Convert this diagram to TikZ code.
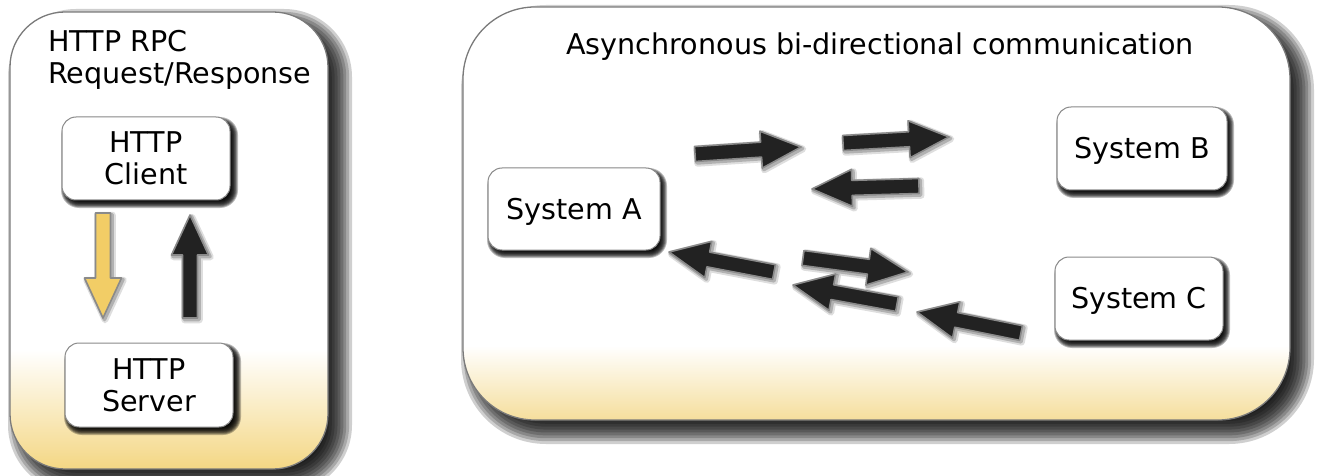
\documentclass[tikz,border=0pt]{standalone}
\usepackage{fontspec}
\setmainfont{DejaVu Sans}
\usetikzlibrary{calc}
\definecolor{panelline}{HTML}{7A7A7A}
\definecolor{boxline}{HTML}{8A8A8A}
\definecolor{arrowdark}{HTML}{222222}
\definecolor{arrowedge}{HTML}{8A8A8A}
\definecolor{arrowyellow}{HTML}{F2CD66}
\definecolor{goldL}{HTML}{F4D784}
\definecolor{goldR}{HTML}{F5DE9C}
\pgfdeclareverticalshading{leftshade}{100bp}{color(0bp)=(goldL); color(25bp)=(goldL); color(38bp)=(white); color(100bp)=(white)}
\pgfdeclareverticalshading{rightshade}{100bp}{color(0bp)=(goldR); color(25bp)=(goldR); color(34bp)=(white); color(100bp)=(white)}

\newcommand\softshadow[7]{% x1,y1,x2,y2,radius,blur,opacity
  \foreach \k in {0,...,9}{%
    \pgfmathsetmacro\e{#6*(1-\k/4.5)}%
    \pgfmathsetmacro\rr{max(#5+\e,0.5)}%
    \pgfmathsetmacro\xa{#1-\e}%
    \pgfmathsetmacro\ya{#2-\e}%
    \pgfmathsetmacro\xb{#3+\e}%
    \pgfmathsetmacro\yb{#4+\e}%
    \fill[black,opacity=#7,rounded corners=\rr pt] (\xa,\ya) rectangle (\xb,\yb);
  }%
}

\newcommand\fatarrow[4]{% #1 name, #2 tail, #3 tip, #4 fill
  \coordinate (#1h) at ($(#3)!40pt!(#2)$);
  \coordinate (#1a) at ($(#2)!7.5pt!90:(#3)$);
  \coordinate (#1b) at ($(#1h)!7.5pt!90:(#3)$);
  \coordinate (#1c) at ($(#1h)!18.5pt!90:(#3)$);
  \coordinate (#1d) at ($(#1h)!18.5pt!-90:(#3)$);
  \coordinate (#1e) at ($(#1h)!7.5pt!-90:(#3)$);
  \coordinate (#1f) at ($(#2)!7.5pt!-90:(#3)$);
  \path[arrowglow, transform canvas={xshift=2pt,yshift=-2pt}] (#1a)--(#1b)--(#1c)--(#3)--(#1d)--(#1e)--(#1f)--cycle;
  \path[arrowglow, line width=3.5pt, opacity=0.2, transform canvas={xshift=1.5pt,yshift=-1.5pt}] (#1a)--(#1b)--(#1c)--(#3)--(#1d)--(#1e)--(#1f)--cycle;
  \path[arrowbody, fill=#4] (#1a)--(#1b)--(#1c)--(#3)--(#1d)--(#1e)--(#1f)--cycle;
}

\begin{document}
\begin{tikzpicture}[x=1pt,y=-1pt,
  every node/.style={font=\fontsize{28.6}{32}\selectfont},
  panel/.style={draw=panelline, line width=1.3pt, rounded corners=#1, inner sep=0pt, outer sep=0pt},
  sbox/.style={draw=boxline, line width=1pt, fill=white, rounded corners=14pt, inner sep=0pt, outer sep=0pt, align=center},
  sysbox/.style={sbox, text height=20pt, text depth=0pt},
  arrowglow/.style={draw=black, line width=6.5pt, opacity=0.13, line join=round},
  arrowbody/.style={draw=arrowedge, line width=1.6pt, line join=round},
]
\useasboundingbox (0,0) rectangle (1318,476);
\fill[white] (0,0) rectangle (1318,476);

% ---- left panel
\softshadow{21}{22}{339}{480}{55}{13}{0.19}
\node[panel=55pt, shading=leftshade, minimum width=318pt, minimum height=457pt] (lp) at (169,240.5) {};
\node[anchor=base west, inner sep=0pt] (lt1) at (48,52) {HTTP RPC};
\node[anchor=base west, inner sep=0pt] (lt2) at (48,84) {Request/Response};

\softshadow{65}{121}{234}{204}{14}{4}{0.26}
\node[sbox, minimum width=168pt, minimum height=83pt] (client) at (146,158.5) {HTTP\\Client};
\softshadow{68}{347}{237}{431}{14}{4}{0.26}
\node[sbox, minimum width=168pt, minimum height=84pt] (server) at (149,385) {HTTP\\Server};

\coordinate (y1) at (103,213); \coordinate (y2) at (103,318);
\coordinate (k1) at (190,318); \coordinate (k2) at (190,215);
\fatarrow{ya}{y1}{y2}{arrowyellow}
\fatarrow{ka}{k1}{k2}{arrowdark}

% ---- right panel
\softshadow{474}{18}{1301}{431}{72}{13}{0.19}
\node[panel=72pt, shading=rightshade, minimum width=827pt, minimum height=413pt] (rp) at (876.5,213.5) {};
\node[anchor=base, inner sep=0pt] (rt) at (880,55) {Asynchronous bi-directional communication};

\softshadow{491}{172}{663}{254}{14}{4}{0.26}
\node[sysbox, minimum width=172pt, minimum height=82pt] (A) at (574,209) {System A};
\softshadow{1060}{111}{1230}{194}{14}{4}{0.26}
\node[sysbox, minimum width=170pt, minimum height=83pt] (B) at (1142,148.5) {System B};
\softshadow{1058}{261}{1226}{344}{14}{4}{0.26}
\node[sysbox, minimum width=168pt, minimum height=83pt] (C) at (1139,298.5) {System C};

\coordinate (t1) at (695,154);  \coordinate (p1) at (801,147);
\coordinate (t2) at (843,143);  \coordinate (p2) at (949,137);
\coordinate (t3) at (919,186);  \coordinate (p3) at (812,189);
\coordinate (t4) at (774,272);  \coordinate (p4) at (669,252);
\coordinate (t5) at (803,258);  \coordinate (p5) at (908,272);
\coordinate (t6) at (897,304);  \coordinate (p6) at (793,285);
\coordinate (t7) at (1021,333); \coordinate (p7) at (917,312);
\fatarrow{a1}{t1}{p1}{arrowdark}
\fatarrow{a2}{t2}{p2}{arrowdark}
\fatarrow{a3}{t3}{p3}{arrowdark}
\fatarrow{a4}{t4}{p4}{arrowdark}
\fatarrow{a5}{t5}{p5}{arrowdark}
\fatarrow{a6}{t6}{p6}{arrowdark}
\fatarrow{a7}{t7}{p7}{arrowdark}
\end{tikzpicture}
\end{document}
